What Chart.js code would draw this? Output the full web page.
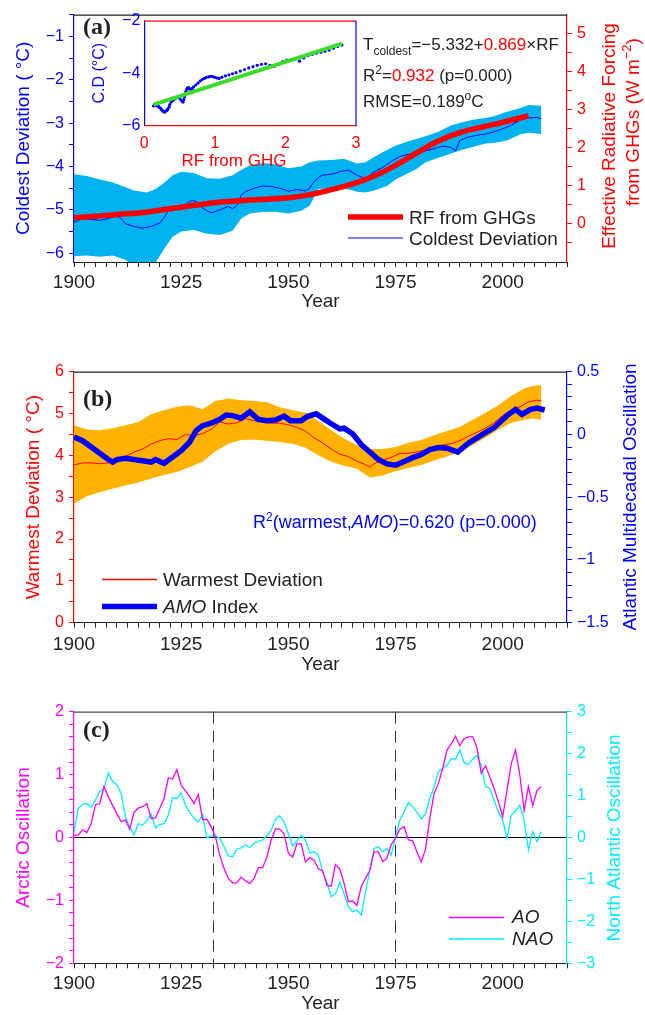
<!DOCTYPE html>
<html>
<head>
<meta charset="utf-8">
<title>Coldest / warmest deviation</title>
<script src="https://cdn.jsdelivr.net/npm/chart.js@4.4.0/dist/chart.umd.min.js"></script>
<style>
  body { margin: 0; background: #fff; }
  #wrap { position: relative; width: 645px; height: 1015px; }
  canvas { position: absolute; }
</style>
</head>
<body>
<div id="wrap">
  <canvas id="chartA" width="645" height="314" style="left:0;top:0"></canvas>
  <canvas id="chartInset" width="285" height="175" style="left:90px;top:0"></canvas>
  <canvas id="chartB" width="645" height="364" style="left:0;top:314px"></canvas>
  <canvas id="chartC" width="645" height="337" style="left:0;top:678px"></canvas>
</div>
<script>
// ---- panel (a): coldest deviation + GHG forcing ----
const coldYears = [1900,1902,1904,1906,1908,1910,1911,1912,1914,1916,1918,1920,1921,1922,1924,1926,1927,1928,1929,1930,1932,1934,1936,1937,1938,1939,1940,1942,1944,1946,1948,1950,1952,1954,1955,1956,1957,1958,1960,1962,1964,1966,1968,1970,1972,1974,1976,1978,1980,1982,1984,1986,1988,1989,1990,1992,1994,1996,1998,2000,2002,2004,2006,2008,2009];
const coldVals = [-5.28,-5.2,-5.22,-5.24,-5.2,-5.13,-5.2,-5.32,-5.38,-5.42,-5.38,-5.3,-5.18,-5.02,-4.92,-4.88,-4.8,-4.78,-4.85,-4.96,-5.07,-5.0,-4.92,-4.97,-4.9,-4.66,-4.58,-4.5,-4.45,-4.46,-4.5,-4.57,-4.53,-4.56,-4.5,-4.35,-4.25,-4.2,-4.18,-4.12,-4.08,-4.2,-4.28,-4.12,-4.02,-3.88,-3.77,-3.72,-3.68,-3.64,-3.59,-3.53,-3.56,-3.64,-3.4,-3.32,-3.28,-3.25,-3.2,-3.13,-3.05,-2.93,-2.88,-2.87,-2.9];
const bandYearsA = [1900,1903,1906,1909,1912,1914,1917,1919,1921,1923,1925,1928,1931,1934,1937,1939,1941,1944,1947,1950,1953,1955,1957,1960,1963,1966,1968,1970,1973,1975,1978,1980,1982,1985,1988,1990,1993,1996,1998,2001,2004,2006,2009];
const bandHiA = [-4.18,-4.22,-4.3,-4.36,-4.48,-4.55,-4.6,-4.52,-4.38,-4.2,-4.12,-4.15,-4.27,-4.28,-4.2,-4.08,-3.97,-3.92,-3.95,-4.04,-4.0,-3.9,-3.86,-3.85,-3.82,-3.93,-3.9,-3.78,-3.62,-3.52,-3.42,-3.36,-3.3,-3.2,-3.05,-3.0,-2.92,-2.88,-2.84,-2.74,-2.66,-2.58,-2.6];
const bandLoA = [-6.07,-6.05,-6.08,-6.05,-6.15,-6.3,-6.3,-6.22,-5.9,-5.62,-5.5,-5.46,-5.55,-5.58,-5.48,-5.2,-5.08,-5.05,-5.04,-5.08,-5.02,-4.9,-4.52,-4.5,-4.5,-4.58,-4.6,-4.55,-4.45,-4.3,-4.15,-4.05,-3.9,-3.8,-3.7,-3.63,-3.55,-3.47,-3.46,-3.4,-3.26,-3.22,-3.25];
const rfYears = [1900,1905,1910,1915,1920,1925,1930,1935,1940,1945,1950,1955,1960,1965,1970,1975,1980,1985,1990,1995,2000,2006];
const rfVals = [0.16,0.2,0.25,0.29,0.36,0.44,0.52,0.58,0.62,0.65,0.69,0.77,0.9,1.05,1.26,1.54,1.87,2.18,2.4,2.54,2.67,2.84];

// inset: coldest deviation against forcing
const insetRf = [0.13,0.14,0.15,0.17,0.18,0.2,0.21,0.23,0.24,0.26,
  0.27,0.29,0.3,0.32,0.33,0.35,0.36,0.38,0.4,0.42,
  0.44,0.46,0.48,0.5,0.52,0.54,0.55,0.56,0.57,0.58,
  0.59,0.6,0.61,0.62,0.63,0.64,0.66,0.68,0.7,0.73,
  0.76,0.79,0.82,0.85,0.88,0.91,0.94,0.97,1.0,1.03,
  1.06,1.1,1.15,1.2,1.25,1.3,1.36,1.42,1.48,1.54,
  1.6,1.66,1.72,1.78,1.84,1.9,1.96,2.02,2.08,2.14,
  2.2,2.26,2.32,2.38,2.44,2.5,2.56,2.62,2.68,2.74,2.8];
const insetCd = [-5.25,-5.22,-5.2,-5.24,-5.22,-5.26,-5.3,-5.33,-5.38,-5.42,
  -5.46,-5.48,-5.45,-5.42,-5.38,-5.3,-5.2,-5.1,-5.05,-5.0,
  -4.96,-4.92,-4.9,-4.95,-5.02,-5.08,-5.1,-5.0,-4.9,-4.8,
  -4.7,-4.62,-4.58,-4.55,-4.56,-4.6,-4.62,-4.58,-4.52,-4.45,
  -4.38,-4.3,-4.24,-4.2,-4.16,-4.14,-4.12,-4.13,-4.16,-4.18,
  -4.2,-4.15,-4.1,-4.06,-4.02,-3.98,-3.92,-3.86,-3.8,-3.75,
  -3.7,-3.66,-3.64,-3.7,-3.74,-3.66,-3.56,-3.5,-3.48,-3.46,
  -3.54,-3.42,-3.33,-3.28,-3.24,-3.2,-3.16,-3.12,-3.05,-2.98,-2.93];
const fitRf = [0.13, 2.8];
const fitCd = [-5.2, -2.87];

// ---- panel (b): warmest deviation + AMO ----
const warmYears = [1900,1902,1904,1906,1908,1910,1912,1914,1916,1918,1920,1922,1924,1926,1928,1930,1932,1934,1936,1938,1940,1942,1944,1946,1948,1950,1952,1954,1956,1958,1960,1962,1964,1966,1968,1969,1970,1972,1974,1976,1978,1980,1982,1984,1986,1988,1990,1992,1994,1996,1998,2000,2002,2004,2006,2008,2009];
const warmVals = [3.77,3.82,3.82,3.8,3.82,3.89,3.97,4.08,4.15,4.27,4.35,4.4,4.38,4.5,4.47,4.52,4.62,4.8,4.75,4.78,4.88,4.83,4.8,4.77,4.77,4.73,4.67,4.58,4.42,4.3,4.15,4.03,3.97,3.86,3.78,3.72,3.8,3.88,3.95,4.05,4.05,4.08,4.13,4.2,4.25,4.28,4.35,4.46,4.55,4.65,4.78,4.95,5.08,5.16,5.28,5.32,5.3];
const bandYearsB = [1900,1903,1906,1909,1912,1915,1918,1921,1924,1927,1930,1933,1936,1939,1942,1945,1948,1951,1954,1957,1960,1963,1966,1969,1972,1975,1978,1981,1984,1987,1990,1993,1996,1999,2002,2005,2007,2009];
const bandHiB = [4.72,4.62,4.6,4.65,4.72,4.8,4.98,5.08,5.16,5.2,5.1,5.3,5.36,5.32,5.3,5.27,5.15,5.08,5.02,4.82,4.6,4.4,4.25,4.15,4.15,4.2,4.3,4.37,4.48,4.58,4.68,4.85,5.02,5.2,5.42,5.6,5.66,5.68];
const bandLoB = [2.85,3.02,3.12,3.2,3.28,3.35,3.45,3.53,3.6,3.72,3.85,4.1,4.28,4.37,4.38,4.35,4.32,4.28,4.18,4.0,3.85,3.75,3.68,3.47,3.52,3.62,3.7,3.77,3.88,3.97,4.08,4.25,4.42,4.62,4.78,4.85,4.88,4.85];
const amoYears = [1900,1902,1904,1906,1908,1909,1910,1912,1914,1916,1918,1919,1921,1923,1925,1927,1928.5,1930,1932,1934,1935.5,1937,1939,1941,1943,1945,1947,1949,1950.5,1953,1954.5,1956.5,1958,1960,1962,1963,1965,1967,1969,1971,1973,1975,1977,1979,1981,1983,1985,1987,1989.5,1992,1995,1998,2001,2003,2004.5,2006.5,2008,2009.8];
const amoVals = [-0.02,-0.05,-0.1,-0.15,-0.2,-0.22,-0.2,-0.19,-0.2,-0.21,-0.22,-0.2,-0.23,-0.18,-0.13,-0.06,0.03,0.07,0.09,0.12,0.155,0.15,0.13,0.18,0.12,0.11,0.115,0.145,0.11,0.11,0.145,0.165,0.13,0.085,0.045,0.05,0.005,-0.08,-0.14,-0.2,-0.235,-0.245,-0.215,-0.185,-0.16,-0.12,-0.105,-0.11,-0.14,-0.07,-0.005,0.055,0.15,0.2,0.16,0.2,0.21,0.195];

// ---- panel (c): AO and NAO, one value per year from 1900 ----
const ocFirstYear = 1900;
const aoVals = [0.03,0.04,0.12,0.08,0.22,0.52,0.54,0.81,0.65,0.51,
  0.38,0.25,0.28,0.13,0.4,0.47,0.49,0.54,0.3,0.31,
  0.46,0.62,0.95,0.93,1.08,0.83,0.74,0.65,0.54,0.68,
  0.28,0.29,0.17,0.01,-0.28,-0.49,-0.65,-0.72,-0.72,-0.63,
  -0.69,-0.73,-0.65,-0.48,-0.48,-0.31,-0.04,0.14,0.13,0.06,
  -0.25,-0.31,-0.1,-0.1,-0.39,-0.32,-0.36,-0.5,-0.53,-0.76,
  -0.77,-0.43,-0.5,-0.73,-1.02,-1.01,-1.08,-0.78,-0.65,-0.52,
  -0.23,-0.23,-0.38,-0.33,-0.11,-0.01,0.13,0.17,-0.04,-0.05,
  -0.23,-0.39,-0.19,0.3,0.7,0.86,1.1,1.39,1.49,1.61,
  1.46,1.57,1.6,1.6,1.43,1.02,1.14,0.96,0.78,0.57,
  0.33,0.75,1.18,1.39,0.99,0.43,0.81,0.51,0.75,0.81];
const naoVals = [0.14,0.69,0.79,0.81,0.72,0.89,1.1,1.17,1.54,1.34,
  1.26,1.05,0.49,0.25,0.06,0.33,0.29,0.41,0.56,0.23,
  0.31,0.33,0.53,0.95,0.93,1.07,0.77,0.6,0.45,0.37,
  0.55,-0.01,0.04,0.04,-0.02,-0.22,-0.44,-0.46,-0.28,-0.25,
  -0.18,-0.24,-0.14,-0.09,-0.06,0.04,0.17,0.44,0.52,0.37,
  0.1,-0.2,-0.09,0.06,-0.06,-0.37,-0.34,-0.42,-0.82,-1.06,
  -1.41,-1.34,-1.07,-1.34,-1.65,-1.77,-1.73,-1.85,-1.3,-0.78,
  -0.26,-0.22,-0.34,-0.26,-0.42,0.02,0.41,0.61,0.83,0.73,
  0.6,0.45,0.57,0.93,1.21,1.57,1.65,1.72,1.88,1.87,
  2.08,1.79,1.74,1.87,1.95,1.72,1.21,1.17,0.89,0.61,
  0.41,-0.02,0.53,0.63,0.77,0.41,-0.3,0.14,-0.1,0.14];
const breakYears = [1932.5, 1975];

// tick labels
const xLabels = [1900, 1925, 1950, 1975, 2000];
const yLabelsA = [-6, -5, -4, -3, -2, -1];
const y2LabelsA = [0, 1, 2, 3, 4, 5];
const yLabelsB = [0, 1, 2, 3, 4, 5, 6];
const y2LabelsB = [-1.5, -1, -0.5, 0, 0.5];
const yLabelsC = [-2, -1, 0, 1, 2];
const y2LabelsC = [-3, -2, -1, 0, 1, 2, 3];
const insetXLabels = [0, 1, 2, 3];
const insetYLabels = [-6, -4, -2];

const SANS = '"Liberation Sans", Arial, sans-serif';
const SERIF = '"Liberation Serif", "Times New Roman", serif';
const INK = '#222';
const BLUE = '#0000ff', RED = '#ff0000', MAG = '#ff00ff', CYAN = '#00eeff';
Chart.defaults.font.family = SANS;

function pts(xs, ys) { return xs.map((x, i) => ({x: x, y: ys[i]})); }
function steps(a, b, d) {
  const out = [];
  for (let i = 0; a + i * d <= b + 1e-9; i++) out.push(Math.round((a + i * d) * 1000) / 1000);
  return out;
}
function fmt(labels) {
  return function (v) {
    const hit = labels.find(l => Math.abs(l - v) < 1e-6);
    return hit === undefined ? '' : String(hit).replace('-', '\u2212');
  };
}

function xAxis(h, tickPad, titlePad, extra) {
  extra = extra || {};
  return {
    type: 'linear', min: 1900, max: 2015,
    afterBuildTicks: s => { s.ticks = steps(1900, 2015, 2.5).map(v => ({value: v})); },
    afterFit: s => { s.height = h; },
    ticks: {autoSkip: false, maxRotation: 0, color: INK, font: {size: 19}, padding: tickPad, callback: fmt(xLabels)},
    grid: {drawOnChartArea: !!extra.gridColor, color: extra.gridColor || 'transparent', tickLength: 5, tickColor: INK},
    border: {color: INK, width: 1, dash: extra.dash || []},
    title: {display: true, text: 'Year', color: INK, font: {size: 19}, padding: {top: 0, bottom: titlePad}}
  };
}

function yAxis(o) {
  return {
    type: 'linear', position: o.pos, min: o.min, max: o.max,
    afterBuildTicks: s => { s.ticks = o.ticks.map(v => ({value: v})); },
    afterFit: s => { s.width = o.width; },
    ticks: {autoSkip: false, color: o.color, font: {size: 16}, padding: 5, callback: fmt(o.labels)},
    grid: {drawOnChartArea: !!o.gridColor, color: o.gridColor || 'transparent', tickLength: 5, tickColor: o.color},
    border: {color: o.color, width: 1.2},
    title: o.title ? {display: true, text: o.title, color: o.color, font: {size: 19}, padding: {top: o.titlePad, bottom: 0}} : {display: false}
  };
}

function drawRich(ctx, t) {
  ctx.save();
  ctx.translate(t.x, t.y);
  if (t.rot) ctx.rotate(t.rot);
  ctx.textBaseline = t.base || 'alphabetic';
  ctx.textAlign = 'left';
  const fonts = t.segs.map(s => (s.it ? 'italic ' : '') + (s.b ? 'bold ' : '') + (s.sz || t.sz) + 'px ' + (s.serif ? SERIF : SANS));
  let w = 0;
  t.segs.forEach((s, i) => { ctx.font = fonts[i]; w += ctx.measureText(s.t).width; });
  let x = t.align === 'center' ? -w / 2 : 0;
  t.segs.forEach((s, i) => {
    ctx.font = fonts[i];
    ctx.fillStyle = s.c || t.c;
    ctx.fillText(s.t, x, s.dy || 0);
    x += ctx.measureText(s.t).width;
  });
  ctx.restore();
}

// page-coordinate labels, legend keys and frame edges
function makeNotes(spec) {
  return {
    id: 'notes',
    afterDraw(chart) {
      const ctx = chart.ctx, ca = chart.chartArea;
      ctx.save();
      ctx.lineWidth = 1.2;
      if (spec.top) { ctx.strokeStyle = spec.top; ctx.beginPath(); ctx.moveTo(ca.left, ca.top + 0.5); ctx.lineTo(ca.right, ca.top + 0.5); ctx.stroke(); }
      if (spec.right) { ctx.strokeStyle = spec.right; ctx.beginPath(); ctx.moveTo(ca.right, ca.top); ctx.lineTo(ca.right, ca.bottom); ctx.stroke(); }
      ctx.translate(-spec.ox, -spec.oy);
      (spec.keys || []).forEach(k => {
        ctx.strokeStyle = k.c; ctx.lineWidth = k.w; ctx.lineCap = 'butt';
        ctx.beginPath(); ctx.moveTo(k.x1, k.y); ctx.lineTo(k.x2, k.y); ctx.stroke();
      });
      (spec.texts || []).forEach(t => drawRich(ctx, t));
      ctx.restore();
    }
  };
}

const common = {
  responsive: false, animation: false, events: [],
  plugins: {legend: {display: false}, tooltip: {enabled: false}}
};
const lineDs = {pointRadius: 0, tension: 0, fill: false};

// ---------- (a) ----------
new Chart(document.getElementById('chartA'), {
  type: 'line',
  data: {datasets: [
    Object.assign({}, lineDs, {data: pts(rfYears, rfVals), yAxisID: 'y2', borderColor: RED, borderWidth: 5.5, tension: 0.4}),
    Object.assign({}, lineDs, {data: pts(coldYears, coldVals), yAxisID: 'y', borderColor: BLUE, borderWidth: 1}),
    Object.assign({}, lineDs, {data: pts(bandYearsA, bandHiA), yAxisID: 'y', borderWidth: 0}),
    Object.assign({}, lineDs, {data: pts(bandYearsA, bandLoA), yAxisID: 'y', borderWidth: 0, fill: '-1', backgroundColor: 'rgb(0,178,240)'})
  ]},
  options: Object.assign({}, common, {
    layout: {padding: {top: 10, left: 0, right: 0, bottom: 0}},
    scales: {
      x: xAxis(52, 4, 1),
      y: yAxis({pos: 'left', min: -6.2, max: -0.5, ticks: steps(-6, -0.5, 0.5), labels: yLabelsA, color: BLUE, width: 74, title: 'Coldest Deviation ( \u00B0C)', titlePad: 12.8}),
      y2: yAxis({pos: 'right', min: -1, max: 5.5, ticks: steps(-0.5, 5, 0.5), labels: y2LabelsA, color: RED, width: 78})
    }
  }),
  plugins: [makeNotes({ox: 0, oy: 0, top: INK,
    keys: [
      {x1: 348, x2: 403, y: 217, c: RED, w: 5.5},
      {x1: 348, x2: 403, y: 238, c: BLUE, w: 1.2}
    ],
    texts: [
      {x: 83, y: 34, c: INK, sz: 24, segs: [{t: '(a)', b: true, serif: true}]},
      {x: 363, y: 50, c: INK, sz: 17, segs: [{t: 'T'}, {t: 'coldest', sz: 12, dy: 5}, {t: '=\u22125.332+'}, {t: '0.869', c: RED}, {t: '\u00D7RF'}]},
      {x: 363, y: 81, c: INK, sz: 17, segs: [{t: 'R'}, {t: '2', sz: 12, dy: -7}, {t: '='}, {t: '0.932', c: RED}, {t: ' (p=0.000)'}]},
      {x: 363, y: 107, c: INK, sz: 17, segs: [{t: 'RMSE=0.189'}, {t: 'o', sz: 12, dy: -7}, {t: 'C'}]},
      {x: 409, y: 224, c: INK, sz: 19, segs: [{t: 'RF from GHGs'}]},
      {x: 409, y: 245, c: INK, sz: 19, segs: [{t: 'Coldest Deviation'}]},
      {x: 610, y: 136, rot: -Math.PI / 2, align: 'center', base: 'middle', c: RED, sz: 19, segs: [{t: 'Effective Radiative Forcing'}]},
      {x: 634, y: 122, rot: -Math.PI / 2, align: 'center', base: 'middle', c: RED, sz: 19, segs: [{t: 'from GHGs (W m'}, {t: '\u22122', sz: 13, dy: -7}, {t: ')'}]}
    ]})]
});

// ---------- inset ----------
new Chart(document.getElementById('chartInset'), {
  type: 'scatter',
  data: {datasets: [
    {data: pts(fitRf, fitCd), showLine: true, borderColor: '#3bdc2a', borderWidth: 4, pointRadius: 0},
    {data: pts(insetRf, insetCd), pointRadius: 1.6, backgroundColor: BLUE, borderWidth: 0}
  ]},
  options: Object.assign({}, common, {
    layout: {padding: {top: 20.7, left: 0, right: 19, bottom: 0}},
    scales: {
      x: {type: 'linear', min: 0, max: 3,
        afterBuildTicks: s => { s.ticks = insetXLabels.map(v => ({value: v})); },
        afterFit: s => { s.height = 49.3; },
        ticks: {autoSkip: false, maxRotation: 0, color: RED, font: {size: 16}, padding: 8, callback: fmt(insetXLabels)},
        grid: {drawOnChartArea: false, drawTicks: false},
        border: {color: RED, width: 1.2}},
      y: {type: 'linear', min: -6, max: -2,
        afterBuildTicks: s => { s.ticks = insetYLabels.map(v => ({value: v})); },
        afterFit: s => { s.width = 54.3; },
        ticks: {autoSkip: false, color: BLUE, font: {size: 16}, padding: 4, callback: fmt(insetYLabels)},
        grid: {drawOnChartArea: false, drawTicks: false},
        border: {color: BLUE, width: 1.2},
        title: {display: true, text: 'C.D (\u00B0C)', color: BLUE, font: {size: 16}, padding: {top: 0, bottom: 0}}}
    }
  }),
  plugins: [makeNotes({ox: 90, oy: 0, top: RED, right: BLUE,
    texts: [{x: 234, y: 166, align: 'center', c: RED, sz: 17, segs: [{t: 'RF from GHG'}]}]})]
});

// ---------- (b) ----------
new Chart(document.getElementById('chartB'), {
  type: 'line',
  data: {datasets: [
    Object.assign({}, lineDs, {data: pts(amoYears, amoVals), yAxisID: 'y2', borderColor: BLUE, borderWidth: 5.5}),
    Object.assign({}, lineDs, {data: pts(warmYears, warmVals), yAxisID: 'y', borderColor: RED, borderWidth: 1}),
    Object.assign({}, lineDs, {data: pts(bandYearsB, bandHiB), yAxisID: 'y', borderWidth: 0}),
    Object.assign({}, lineDs, {data: pts(bandYearsB, bandLoB), yAxisID: 'y', borderWidth: 0, fill: '-1', backgroundColor: 'rgb(255,178,0)'})
  ]},
  options: Object.assign({}, common, {
    layout: {padding: {top: 57.7, left: 0, right: 0, bottom: 0}},
    scales: {
      x: xAxis(55.3, 6, 2),
      y: yAxis({pos: 'left', min: 0, max: 6, ticks: steps(0, 6, 0.5), labels: yLabelsB, color: RED, width: 74, title: 'Warmest Deviation ( \u00B0C)', titlePad: 22.8}),
      y2: yAxis({pos: 'right', min: -1.5, max: 0.5, ticks: steps(-1.5, 0.5, 0.1), labels: y2LabelsB, color: BLUE, width: 78})
    }
  }),
  plugins: [makeNotes({ox: 0, oy: 314, top: INK,
    keys: [
      {x1: 102, x2: 157, y: 579.5, c: RED, w: 1.4},
      {x1: 102, x2: 157, y: 606.5, c: BLUE, w: 5.5}
    ],
    texts: [
      {x: 83, y: 406, c: INK, sz: 24, segs: [{t: '(b)', b: true, serif: true}]},
      {x: 163, y: 586, c: INK, sz: 19, segs: [{t: 'Warmest Deviation'}]},
      {x: 163, y: 613, c: INK, sz: 19, segs: [{t: 'AMO', it: true}, {t: ' Index'}]},
      {x: 253, y: 528, c: BLUE, sz: 18, segs: [{t: 'R'}, {t: '2', sz: 12, dy: -7}, {t: '(warmest,'}, {t: 'AMO', it: true}, {t: ')=0.620 (p=0.000)'}]},
      {x: 631, y: 497, rot: -Math.PI / 2, align: 'center', base: 'middle', c: BLUE, sz: 19, segs: [{t: 'Atlantic Multidecadal Oscillation'}]}
    ]})]
});

// ---------- (c) ----------
const ocYears = aoVals.map((v, i) => ocFirstYear + i);
new Chart(document.getElementById('chartC'), {
  type: 'line',
  data: {datasets: [
    Object.assign({}, lineDs, {data: pts(ocYears, aoVals), yAxisID: 'y', borderColor: MAG, borderWidth: 1.3}),
    Object.assign({}, lineDs, {data: pts(ocYears, naoVals), yAxisID: 'y2', borderColor: CYAN, borderWidth: 1.3})
  ]},
  options: Object.assign({}, common, {
    layout: {padding: {top: 33.7, left: 0, right: 0, bottom: 0}},
    scales: {
      x: xAxis(51.7, 4, 0, {gridColor: c => breakYears.some(b => Math.abs(b - c.tick.value) < 1e-6) ? '#333' : 'transparent', dash: [12, 7]}),
      y: yAxis({pos: 'left', min: -2, max: 2, ticks: steps(-2, 2, 0.2), labels: yLabelsC, color: MAG, width: 74, title: 'Arctic Oscillation', titlePad: 12.6,
        gridColor: c => Math.abs(c.tick.value) < 1e-6 ? '#000' : 'transparent'}),
      y2: yAxis({pos: 'right', min: -3, max: 3, ticks: steps(-3, 3, 0.5), labels: y2LabelsC, color: CYAN, width: 78})
    }
  }),
  plugins: [makeNotes({ox: 0, oy: 678, top: '#444',
    keys: [
      {x1: 449, x2: 504, y: 917.5, c: MAG, w: 1.5},
      {x1: 449, x2: 504, y: 939, c: CYAN, w: 1.5}
    ],
    texts: [
      {x: 83, y: 737, c: INK, sz: 24, segs: [{t: '(c)', b: true, serif: true}]},
      {x: 512, y: 923, c: INK, sz: 19, segs: [{t: 'AO', it: true}]},
      {x: 512, y: 945, c: INK, sz: 19, segs: [{t: 'NAO', it: true}]},
      {x: 615, y: 838, rot: -Math.PI / 2, align: 'center', base: 'middle', c: CYAN, sz: 19, segs: [{t: 'North Atlantic Oscillation'}]}
    ]})]
});
</script>
</body>
</html>
